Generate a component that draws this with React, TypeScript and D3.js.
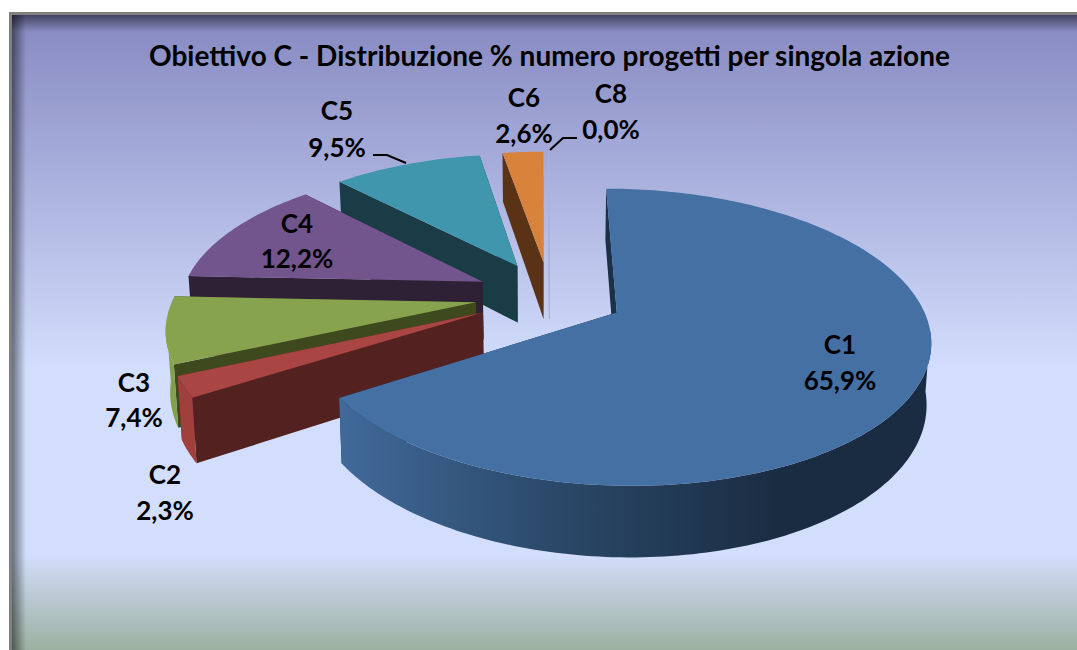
import React from "react";
import * as d3 from "d3";

const categories = ["C1", "C2", "C3", "C4", "C5", "C6", "C8"];
const percentages = [65.9, 2.3, 7.4, 12.2, 9.5, 2.6, 0.0];
const percentLabels = ["65,9%", "2,3%", "7,4%", "12,2%", "9,5%", "2,6%", "0,0%"];
const topColors = ["#4470a4", "#a94542", "#88a34e", "#71558c", "#4096ac", "#d9823b", "#aab4dc"];
const wallColors = ["#1b3147", "#53211f", "#3e4a1e", "#2e2136", "#193c47", "#5a3316", "#a3aed6"];
const rimColors = ["url(#rimC1)", "#a03f3c", "#85a04a", "#5c4774", "#2f7486", "#8e5020", "#a3aed6"];
const title = "Obiettivo C - Distribuzione % numero progetti per singola azione";

// layout of the labels: centre x, baseline of name, baseline of value
const labelPos: Record<string, [number, number, number]> = {
  C1: [840, 354, 390],
  C2: [165, 484, 520],
  C3: [134, 392, 427],
  C4: [297, 233, 268],
  C5: [337, 120, 157],
  C6: [524, 107, 143],
  C8: [611, 103, 139],
};

// perspective camera for the 3-D pie
const R = 309;
const P = 0.000538;
const VX = 542;
const HY = -560;
const CAM = 876;
const DEPTH = 60;
const EXPLODE = 76.5;
const PIE_X = 8;
const PIE_Y = -44;
const RIM_CULL = -0.12;
const LOWER_CONVERGE = 0.0002;

const project = (wx: number, wy: number, h: number): [number, number] => {
  const s = 1 / (1 - P * wy);
  return [VX + wx * s * (1 - h * LOWER_CONVERGE), HY + (CAM + h) * s];
};

const line = d3.line<[number, number]>();
const slices = d3
  .pie<number>()
  .sort(null)
  .startAngle(0)
  .endAngle(2 * Math.PI)(percentages.map((v) => v));

type Arc = (typeof slices)[number];

function geometry(a: Arc) {
  const mid = (a.startAngle + a.endAngle) / 2;
  const ox = PIE_X + EXPLODE * Math.sin(mid);
  const oy = PIE_Y - EXPLODE * Math.cos(mid);
  const at = (r: number, th: number, h: number) =>
    project(ox + r * Math.sin(th), oy - r * Math.cos(th), h);
  const n = Math.max(2, Math.ceil((a.endAngle - a.startAngle) / 0.02));
  const ths = d3.range(n + 1).map((i) => a.startAngle + ((a.endAngle - a.startAngle) * i) / n);
  const topArc = ths.map((t) => at(R, t, 0));
  const apex = at(0, 0, 0);
  const apexLow = at(0, 0, DEPTH);
  const top = line([apex, ...topArc]) + "Z";
  const front = ths.filter((t) => Math.cos(t) < RIM_CULL);
  const rim =
    front.length > 1
      ? line([
          ...front.map((t) => at(R, t, 0)),
          ...[...front].reverse().map((t) => at(R, t, DEPTH)),
        ]) + "Z"
      : "";
  const wallA = line([apex, at(R, a.startAngle, 0), at(R, a.startAngle, DEPTH), apexLow]) + "Z";
  const wallB = line([apex, at(R, a.endAngle, 0), at(R, a.endAngle, DEPTH), apexLow]) + "Z";
  return { top, rim, wallA, wallB };
}

const drawOrder = [6, 5, 4, 3, 2, 1, 0];
const leaders = [
  [[373, 155], [387, 155], [406, 163]],
  [[577, 138], [563, 138], [550, 150]],
] as [number, number][][];

const FONT = "Lato, Carlito, 'Open Sans', sans-serif";

export default function App() {
  return (
    <svg
      width={1077}
      height={650}
      viewBox="0 0 1077 650"
      style={{ position: "absolute", left: 0, top: 0, display: "block" }}
    >
      <defs>
        <linearGradient id="bg" gradientUnits="userSpaceOnUse" x1="0" y1="12" x2="0" y2="650">
          <stop offset="0" stopColor="#8588c0" />
          <stop offset="0.56" stopColor="#d3defd" />
          <stop offset="0.85" stopColor="#d3defc" />
          <stop offset="1" stopColor="#9cb0a0" />
        </linearGradient>
        <linearGradient id="shTop" x1="0" y1="0" x2="0" y2="1">
          <stop offset="0" stopColor="#000" stopOpacity="0.5" />
          <stop offset="1" stopColor="#000" stopOpacity="0" />
        </linearGradient>
        <linearGradient id="shLeft" x1="0" y1="0" x2="1" y2="0">
          <stop offset="0" stopColor="#000" stopOpacity="0.5" />
          <stop offset="1" stopColor="#000" stopOpacity="0" />
        </linearGradient>
        <linearGradient id="rimC1" gradientUnits="userSpaceOnUse" x1="340" y1="0" x2="780" y2="0">
          <stop offset="0" stopColor="#41699a" />
          <stop offset="0.5" stopColor="#2a4868" />
          <stop offset="1" stopColor="#1a2c42" />
        </linearGradient>
      </defs>

      <rect x={9} y={12} width={1068} height={638} fill="#808080" />
      <rect x={12} y={15} width={1065} height={635} fill="url(#bg)" />
      <rect x={12} y={15} width={1065} height={17} fill="url(#shTop)" />
      <rect x={12} y={15} width={14} height={635} fill="url(#shLeft)" />

      <text
        x={549.5}
        y={66}
        textAnchor="middle"
        fontFamily={FONT}
        fontWeight={700}
        fontSize={28}
        fill="#000"
      >
        {title}
      </text>

      {drawOrder.map((i) => {
        const g = geometry(slices[i]);
        const zero = percentages[i] === 0;
        const stroke = zero ? { stroke: topColors[i], strokeWidth: 1 } : {};
        return (
          <g key={categories[i]}>
            <path d={g.wallA} fill={wallColors[i]} {...stroke} />
            <path d={g.wallB} fill={wallColors[i]} {...stroke} />
            {g.rim && <path d={g.rim} fill={rimColors[i]} />}
            <path d={g.top} fill={topColors[i]} {...stroke} />
          </g>
        );
      })}

      {leaders.map((l, i) => (
        <path key={i} d={line(l) ?? ""} fill="none" stroke="#000" strokeWidth={2} />
      ))}

      {categories.map((c, i) => {
        const [x, y1, y2] = labelPos[c];
        return (
          <g
            key={c}
            textAnchor="middle"
            fontFamily={FONT}
            fontWeight={700}
            fontSize={26}
            fill="#000"
          >
            <text x={x} y={y1}>{c}</text>
            <text x={x} y={y2}>{percentLabels[i]}</text>
          </g>
        );
      })}
    </svg>
  );
}
